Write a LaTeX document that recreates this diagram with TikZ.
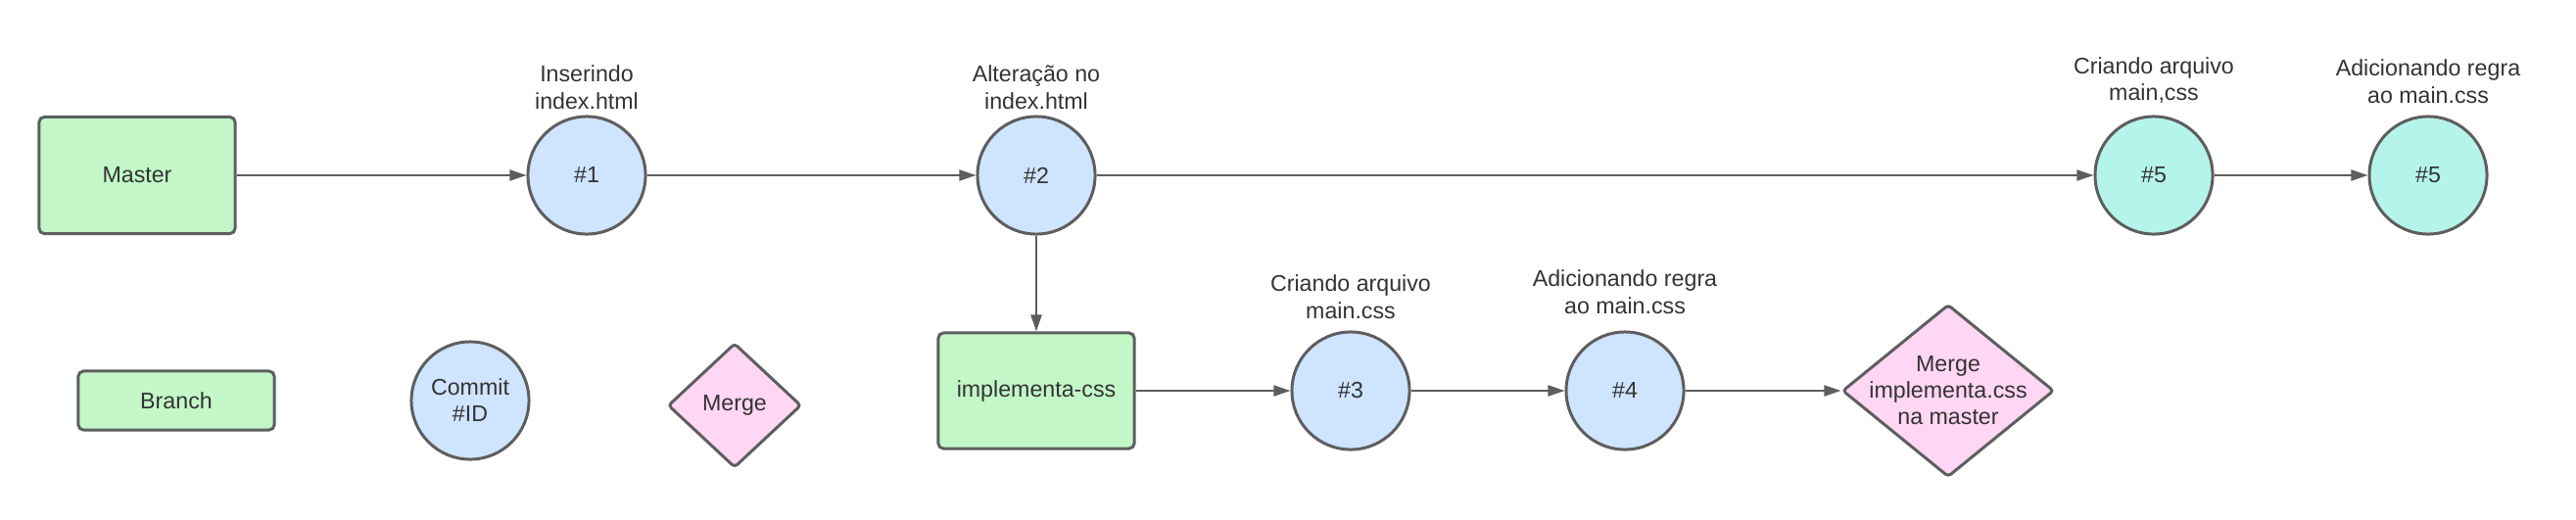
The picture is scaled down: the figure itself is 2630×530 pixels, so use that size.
\documentclass[tikz,border=0pt]{standalone}
\usepackage{fontspec}
\setmainfont{Liberation Sans}
\usepackage{tikz}
\usetikzlibrary{arrows.meta,positioning,shapes.geometric}
\definecolor{gitline}{HTML}{5E5E5E}
\definecolor{gittext}{HTML}{333333}
\definecolor{gitgreen}{HTML}{C3F7C8}
\definecolor{gitblue}{HTML}{CFE4FF}
\definecolor{gitteal}{HTML}{B5F4EB}
\definecolor{gitpink}{HTML}{FFD6F4}
\tikzset{
  gitbranch/.style={draw=gitline, fill=gitgreen, line width=0.85pt, rounded corners=1.5pt, minimum width=2cm, text=gittext, font=\gitfont},
  gitcommit/.style={draw=gitline, fill=gitblue, circle, line width=0.85pt, minimum size=1.2cm, inner sep=0pt, align=center, text=gittext, font=\gitfont},
  gitmerge/.style={draw=gitline, fill=gitpink, diamond, aspect=1.23, line width=0.85pt, rounded corners=1pt, inner sep=-0.1cm, align=center, text=gittext, font=\gitfont},
  gitlabel/.style={align=center, inner sep=1pt, text=gittext, font=\gitfont},
  gitarrow/.style={-{Triangle[length=0.17cm, width=0.11cm]}, draw=gitline, line width=0.6pt},
}
\newcommand{\gitfont}{\fontsize{6.6}{7.7}\selectfont}

\begin{document}
\begin{tikzpicture}[x=0.01cm,y=-0.01cm]
  \useasboundingbox (0,0) rectangle (2630,530);

  % master line
  \node[gitbranch, minimum height=1.19cm] (master) at (140,179) {Master};
  \node[gitcommit] (c1) at (599,179) {\#1};
  \node[gitcommit] (c2) at (1058,179) {\#2};
  \node[gitcommit, fill=gitteal] (c5) at (2199,179) {\#5};
  \node[gitcommit, fill=gitteal] (c6) at (2479,179) {\#5};

  \node[gitlabel, above=0.02cm of c1] (l1) {Inserindo\\index.html};
  \node[gitlabel, above=0.02cm of c2] (l2) {Alteração no\\index.html};
  \node[gitlabel, above=0.08cm of c5] (l5) {Criando arquivo\\main,css};
  \node[gitlabel, above=0.08cm of c6] (l6) {Adicionando regra\\ao main.css};

  % branch implementa-css
  \node[gitbranch, minimum height=1.18cm] (impl) at (1058,399) {implementa-css};
  \node[gitcommit] (c3) at (1379,399) {\#3};
  \node[gitcommit] (c4) at (1659,399) {\#4};
  \node[gitmerge, minimum width=2.16cm, minimum height=1.76cm] (merge) at (1989,399)
    {Merge\\implementa.css\\na master};

  \node[gitlabel, above=0.08cm of c3] (l3) {Criando arquivo\\main.css};
  \node[gitlabel, above=0.13cm of c4] (l4) {Adicionando regra\\ao main.css};

  % legenda
  \node[gitbranch, minimum height=0.6cm] (kbranch) at (180,409) {Branch};
  \node[gitcommit] (kcommit) at (480,409) {Commit\\\#ID};
  \node[gitmerge, aspect=1, inner sep=0pt, minimum width=1.36cm, minimum height=1.27cm] (kmerge) at (750,414) {Merge};

  \draw[gitarrow] (master.east) -- (c1.west);
  \draw[gitarrow] (c1.east) -- (c2.west);
  \draw[gitarrow] (c2.east) -- (c5.west);
  \draw[gitarrow] (c5.east) -- (c6.west);
  \draw[gitarrow] (c2.south) -- (impl.north);
  \draw[gitarrow] (impl.east) -- (c3.west);
  \draw[gitarrow] (c3.east) -- (c4.west);
  \draw[gitarrow] (c4.east) -- (merge.west);
\end{tikzpicture}
\end{document}
